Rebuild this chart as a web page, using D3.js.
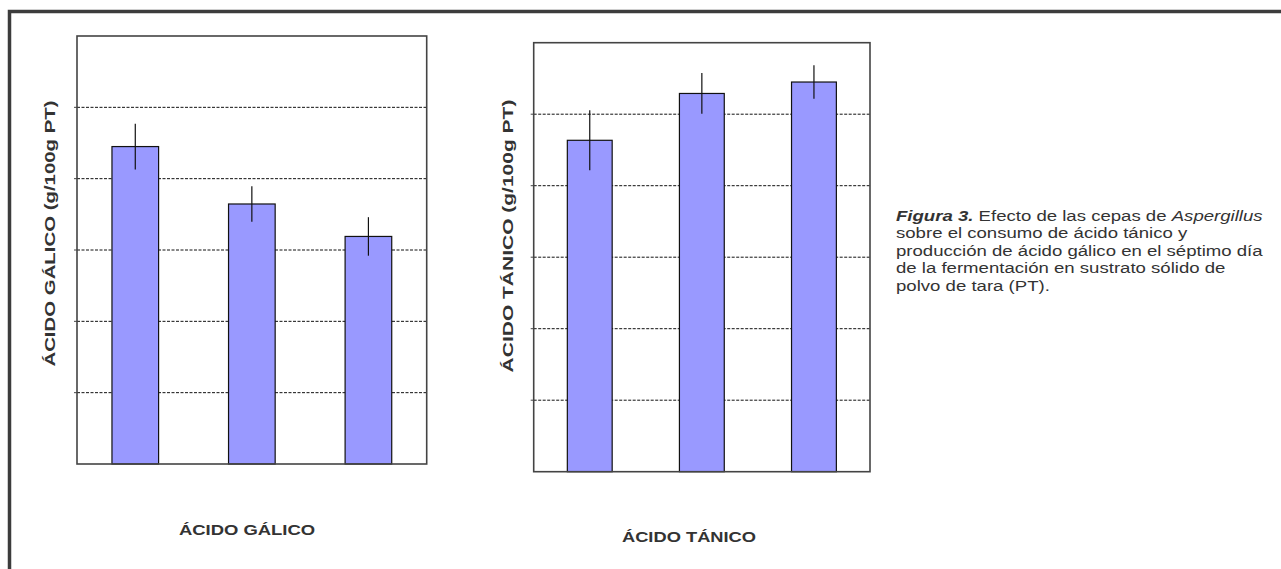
<!DOCTYPE html>
<html>
<head>
<meta charset="utf-8">
<script src="https://cdn.jsdelivr.net/npm/d3@7"></script>
<style>
  html, body { margin: 0; padding: 0; background: #fff; }
  svg { display: block; font-family: Arial, "Liberation Sans", sans-serif; }
</style>
</head>
<body>
<svg id="fig" width="1281" height="569"></svg>
<script>
// Three Aspergillus strains, mean and standard deviation per panel
const strains = ["Cepa 1", "Cepa 2", "Cepa 3"];
const gallicMean = [4.45, 3.645, 3.19];
const gallicSd = [0.32, 0.25, 0.27];
const tannicMean = [4.635, 5.29, 5.45];
const tannicSd = [0.42, 0.285, 0.235];
const yTicks = [0, 1, 2, 3, 4, 5, 6];

const svg = d3.select("#fig");

// outer frame of the figure
svg.append("path")
  .attr("d", "M9.5,1281 V11.5 H1281")
  .attr("fill", "none").attr("stroke", "#3c3c3c").attr("stroke-width", 3.5);

function panel(cfg) {
  const { x0, x1, y0, y1, means, sds, yTitle, xTitle, yTitleX, yTitleY, yStretch,
          xTitleX, xTitleY, xStretch } = cfg;
  const g = svg.append("g");
  const x = d3.scaleBand().domain(strains).range([x0, x1]).paddingInner(0.6).paddingOuter(0.3);
  const y = d3.scaleLinear().domain([0, 6]).range([y1, y0]);

  // dashed horizontal gridlines
  g.append("g").selectAll("line").data(yTicks.slice(1, -1)).join("line")
    .attr("x1", x0).attr("x2", x1)
    .attr("y1", d => y(d)).attr("y2", d => y(d))
    .attr("stroke", "#111").attr("stroke-width", 1).attr("stroke-dasharray", "3,1.5");

  // bars
  const data = strains.map((s, i) => ({ s, m: means[i], sd: sds[i] }));
  g.append("g").selectAll("rect").data(data).join("rect")
    .attr("x", d => x(d.s)).attr("width", x.bandwidth())
    .attr("y", d => y(d.m)).attr("height", d => y(0) - y(d.m))
    .attr("fill", "#9999ff").attr("stroke", "#111").attr("stroke-width", 1.2);

  // error bars
  g.append("g").selectAll("line").data(data).join("line")
    .attr("x1", d => x(d.s) + x.bandwidth() / 2).attr("x2", d => x(d.s) + x.bandwidth() / 2)
    .attr("y1", d => y(d.m + d.sd)).attr("y2", d => y(d.m - d.sd))
    .attr("stroke", "#111").attr("stroke-width", 1.2);

  // plot area frame
  g.append("rect")
    .attr("x", x0).attr("y", y0).attr("width", x1 - x0).attr("height", y1 - y0)
    .attr("fill", "none").attr("stroke", "#444").attr("stroke-width", 1.6);

  // short tick marks on the value axis
  g.append("g").selectAll("line").data(yTicks.slice(1, -1)).join("line")
    .attr("x1", x0 - 3).attr("x2", x0)
    .attr("y1", d => y(d)).attr("y2", d => y(d))
    .attr("stroke", "#444").attr("stroke-width", 1);

  // axis titles (wide lettering)
  g.append("text")
    .attr("transform", `translate(${yTitleX},${yTitleY}) rotate(-90) scale(${yStretch},1)`)
    .attr("text-anchor", "middle").attr("dy", "0.35em")
    .attr("font-size", 15).attr("font-weight", "bold").attr("fill", "#333")
    .text(yTitle);
  g.append("text")
    .attr("transform", `translate(${xTitleX},${xTitleY}) scale(${xStretch},1)`)
    .attr("text-anchor", "middle")
    .attr("font-size", 15).attr("font-weight", "bold").attr("fill", "#333")
    .text(xTitle);
}

panel({ x0: 77, x1: 426.7, y0: 36, y1: 464, means: gallicMean, sds: gallicSd,
  yTitle: "ÁCIDO GÁLICO (g/100g PT)", xTitle: "ÁCIDO GÁLICO",
  yTitleX: 50, yTitleY: 233.5, yStretch: 1.36,
  xTitleX: 247, xTitleY: 535, xStretch: 1.23 });
panel({ x0: 533.7, x1: 870, y0: 42.7, y1: 471.7, means: tannicMean, sds: tannicSd,
  yTitle: "ÁCIDO TÁNICO (g/100g PT)", xTitle: "ÁCIDO TÁNICO",
  yTitleX: 508, yTitleY: 236, yStretch: 1.4,
  xTitleX: 689, xTitleY: 541.5, xStretch: 1.22 });

// figure caption
const capG = svg.append("g").attr("transform", "translate(896,221) scale(1.24,1)");
const cap = capG.append("text").attr("x", 0).attr("y", 0)
  .attr("font-size", 15).attr("fill", "#333");
const capLines = [
  [["Figura 3.", "bi"], [" Efecto de las cepas de ", ""], ["Aspergillus", "i"]],
  [["sobre el consumo de ácido tánico y", ""]],
  [["producción de ácido gálico en el séptimo día", ""]],
  [["de la fermentación en sustrato sólido de", ""]],
  [["polvo de tara (PT).", ""]]
];
capLines.forEach((line, li) => {
  line.forEach(([t, st], k) => {
    const ts = cap.append("tspan").text(t);
    if (k === 0) ts.attr("x", 0).attr("dy", li === 0 ? 0 : 17.5);
    if (st.includes("b")) ts.attr("font-weight", "bold");
    if (st.includes("i")) ts.attr("font-style", "italic");
  });
});
</script>
</body>
</html>
